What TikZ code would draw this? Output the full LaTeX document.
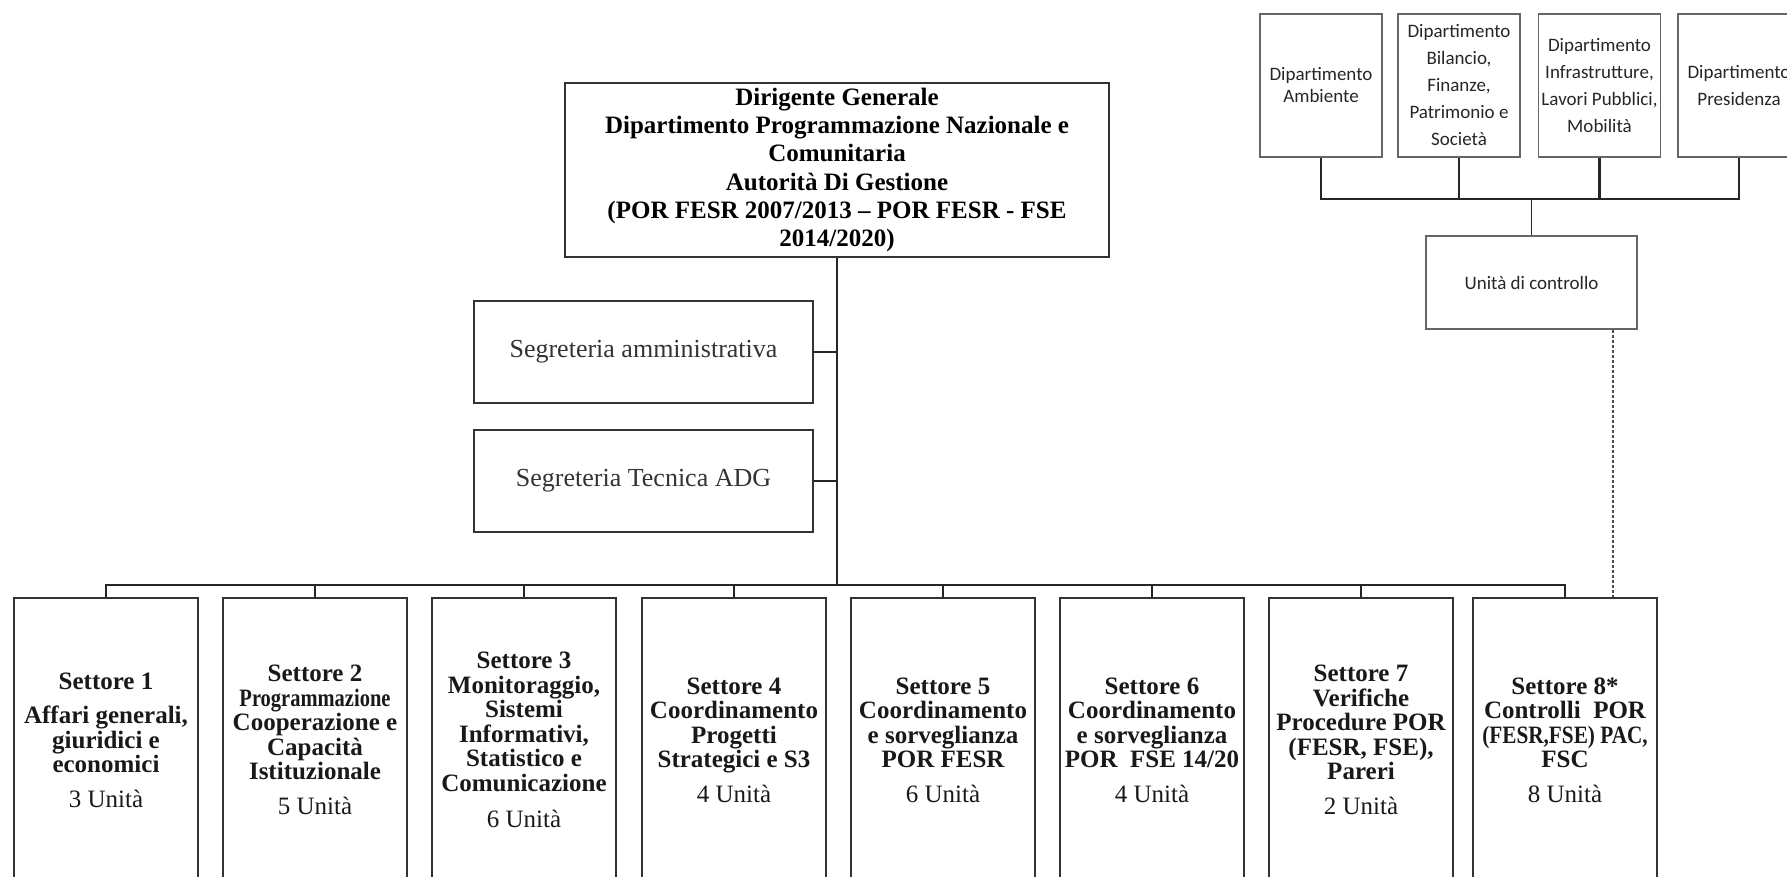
\documentclass[tikz,border=0pt]{standalone}
\usepackage{fontspec}
\usepackage{graphicx}
\setmainfont{Liberation Serif}
\newfontfamily\calfont{Carlito}
\usetikzlibrary{calc}

\tikzset{
  box/.style={draw=black!80, line width=0.9pt, align=center, inner sep=1pt},
  dept/.style={draw=black!60, line width=0.6pt, align=center, minimum width=61pt, minimum height=71.5pt, inner sep=1pt, text=black!85, font=\calfont\fontsize{9.5}{13.5}\selectfont},
  settore/.style={box, minimum width=92pt, minimum height=142pt, anchor=north, text=black!90, font=\fontsize{12.5}{12.25}\selectfont\bfseries},
  segr/.style={box, minimum width=169.5pt, minimum height=51pt, text=black!80, font=\fontsize{13}{15}\selectfont},
  link/.style={black!85, line width=0.8pt},
}

\begin{document}
\begin{tikzpicture}[x=0.5pt, y=-0.5pt]
\useasboundingbox (0,0) rectangle (1787,877);

% dirigente generale
\node[box, line width=1pt, minimum width=272pt, minimum height=87pt, font=\fontsize{12.5}{14.15}\selectfont\bfseries] (dg) at (837,170)
  {Dirigente Generale\\Dipartimento Programmazione Nazionale e\\Comunitaria\\Autorità Di Gestione\\(POR FESR 2007/2013 – POR FESR - FSE\\2014/2020)};

% segreterie
\node[segr] (sa) at (643.5,352) {Segreteria amministrativa};
\node[segr] (st) at (643.5,481) {Segreteria Tecnica ADG};

% dipartimenti
\node[dept, font=\calfont\fontsize{9.5}{11}\selectfont] (amb) at (1321,85.5) {Dipartimento\\Ambiente};
\node[dept] (bil) at (1459,85.5) {Dipartimento\\Bilancio,\\Finanze,\\Patrimonio e\\Società};
\node[dept] (inf) at (1599.5,85.5) {Dipartimento\\Infrastrutture,\\Lavori Pubblici,\\Mobilità};
\node[dept] (pres) at (1739,85.5) {Dipartimento\\Presidenza};
\node[dept, minimum width=105.5pt, minimum height=46.5pt] (unita) at (1531.5,282.5) {Unità di controllo};

% settori
\node[settore] (s1) at (106,597) {Settore 1\\[5pt]Affari generali,\\giuridici e\\economici\\[5pt]{\mdseries 3 Unità}};
\node[settore] (s2) at (315,597) {Settore 2\\\scalebox{0.82}[1]{Programmazione}\\Cooperazione e\\Capacità\\Istituzionale\\[5pt]{\mdseries 5 Unità}};
\node[settore] (s3) at (524,597) {Settore 3\\Monitoraggio,\\Sistemi\\Informativi,\\Statistico e\\Comunicazione\\[6pt]{\mdseries 6 Unità}};
\node[settore] (s4) at (734,597) {Settore 4\\Coordinamento\\Progetti\\Strategici e S3\\[5pt]{\mdseries 4 Unità}};
\node[settore] (s5) at (943,597) {Settore 5\\Coordinamento\\e sorveglianza\\POR FESR\\[5pt]{\mdseries 6 Unità}};
\node[settore] (s6) at (1152,597) {Settore 6\\Coordinamento\\e sorveglianza\\POR\ \ FSE 14/20\\[5pt]{\mdseries 4 Unità}};
\node[settore] (s7) at (1361,597) {Settore 7\\Verifiche\\Procedure POR\\(FESR, FSE),\\Pareri\\[5pt]{\mdseries 2 Unità}};
\node[settore] (s8) at (1565,597) {Settore 8*\\Controlli\ \ POR\\\scalebox{0.85}[1]{(FESR,FSE) PAC,}\\FSC\\[5pt]{\mdseries 8 Unità}};

% collegamenti
\coordinate (dbar) at (0,199);
\coordinate (sbar) at (0,585);
\coordinate (dl) at (1613,0);

\draw[link, line width=0.6pt] (amb.south) |- (pres.south |- dbar) -- (pres.south);
\draw[link, line width=0.6pt] (bil.south) -- (bil.south |- dbar);
\draw[link, line width=1.5pt] (inf.south) -- (inf.south |- dbar);
\draw[link, line width=0.6pt] (unita.north) -- (unita.north |- dbar);

\draw[link, line width=1pt] (dg.south) -- (dg.south |- sbar);
\draw[link, line width=1pt] (sa.east) -- (sa.east -| dg.south);
\draw[link, line width=1pt] (st.east) -- (st.east -| dg.south);
\draw[link, line width=1pt] (s1.north) |- (s8.north |- sbar) -- (s8.north);
\foreach \i in {2,...,7}
  \draw[link] (s\i.north) -- (s\i.north |- sbar);
\draw[black!70, line width=1pt, dash pattern=on 1.5pt off 1pt] (unita.south -| dl) -- (s8.north -| dl);

\end{tikzpicture}
\end{document}
